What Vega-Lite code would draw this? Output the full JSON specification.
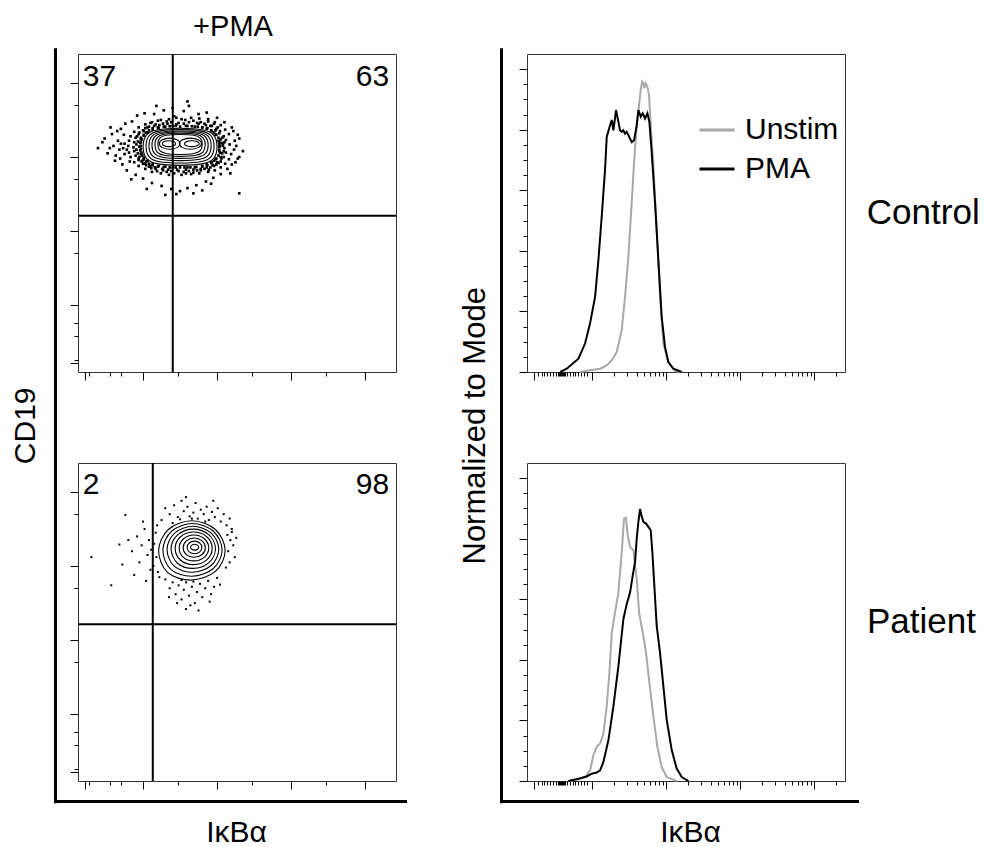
{
"$schema":"https://vega.github.io/schema/vega-lite/v6.json",
"background":"white",
"padding":{"left":9,"top":12,"right":0,"bottom":0},
"config":{"font":"Liberation Sans","view":{"stroke":"#333","strokeWidth":1},
"axis":{"grid":false,"labels":false,"domain":false,"tickColor":"#000","tickWidth":1,"titleFont":"Liberation Sans","titleFontWeight":"normal","titleColor":"#000","titleFontSize":30},
"title":{"font":"Liberation Sans","fontWeight":"normal","color":"#000"},
"text":{"font":"Liberation Sans"}},
"datasets":{
"gates":[{"p":"TL","gx":2.401,"gy":3.208},{"p":"BL","gx":2.131,"gy":3.213}],
"quads":[{"p":"TL","q":"UL","pct":37},{"p":"TL","q":"UR","pct":63},{"p":"BL","q":"UL","pct":2},{"p":"BL","q":"UR","pct":98}],
"dummy":[{"f":2},{"f":3}],
"frame":[{"f":0},{"f":1}],
"tl_dots":[{"x":3.04,"y":4.15},{"x":3.10,"y":4.12},{"x":3.17,"y":4.17},{"x":3.23,"y":4.10},{"x":3.06,"y":4.19},{"x":3.03,"y":4.21},{"x":3.12,"y":4.23},{"x":3.08,"y":4.18},{"x":3.02,"y":4.26},{"x":3.09,"y":4.28},{"x":3.16,"y":4.31},{"x":3.05,"y":4.24},{"x":2.98,"y":4.30},{"x":3.04,"y":4.35},{"x":3.11,"y":4.37},{"x":3.01,"y":4.40},{"x":2.93,"y":4.35},{"x":2.99,"y":4.38},{"x":3.05,"y":4.43},{"x":2.96,"y":4.45},{"x":2.86,"y":4.38},{"x":2.91,"y":4.42},{"x":2.97,"y":4.47},{"x":2.88,"y":4.48},{"x":2.80,"y":4.40},{"x":2.83,"y":4.45},{"x":2.88,"y":4.51},{"x":2.78,"y":4.47},{"x":2.70,"y":4.41},{"x":2.73,"y":4.46},{"x":2.76,"y":4.52},{"x":2.68,"y":4.49},{"x":2.60,"y":4.42},{"x":2.62,"y":4.47},{"x":2.65,"y":4.53},{"x":2.57,"y":4.50},{"x":2.50,"y":4.41},{"x":2.48,"y":4.46},{"x":2.52,"y":4.51},{"x":2.45,"y":4.53},{"x":2.40,"y":4.42},{"x":2.38,"y":4.47},{"x":2.35,"y":4.51},{"x":2.42,"y":4.55},{"x":2.30,"y":4.41},{"x":2.27,"y":4.45},{"x":2.24,"y":4.50},{"x":2.32,"y":4.48},{"x":2.21,"y":4.39},{"x":2.17,"y":4.44},{"x":2.12,"y":4.47},{"x":2.20,"y":4.49},{"x":2.13,"y":4.37},{"x":2.08,"y":4.41},{"x":2.03,"y":4.44},{"x":2.10,"y":4.46},{"x":2.06,"y":4.33},{"x":2.00,"y":4.36},{"x":1.94,"y":4.40},{"x":2.03,"y":4.39},{"x":2.01,"y":4.29},{"x":1.94,"y":4.31},{"x":1.88,"y":4.34},{"x":1.97,"y":4.26},{"x":1.97,"y":4.24},{"x":1.90,"y":4.26},{"x":1.83,"y":4.28},{"x":1.93,"y":4.21},{"x":1.96,"y":4.19},{"x":1.88,"y":4.20},{"x":1.81,"y":4.22},{"x":1.75,"y":4.18},{"x":1.95,"y":4.14},{"x":1.87,"y":4.13},{"x":1.80,"y":4.15},{"x":1.73,"y":4.12},{"x":1.91,"y":4.10},{"x":1.96,"y":4.09},{"x":1.88,"y":4.08},{"x":1.81,"y":4.06},{"x":1.75,"y":4.04},{"x":1.97,"y":4.04},{"x":1.90,"y":4.02},{"x":1.83,"y":4.00},{"x":1.94,"y":3.98},{"x":2.01,"y":3.99},{"x":1.94,"y":3.96},{"x":1.88,"y":3.93},{"x":1.98,"y":3.94},{"x":2.06,"y":3.95},{"x":2.00,"y":3.91},{"x":1.94,"y":3.88},{"x":2.04,"y":3.89},{"x":2.13,"y":3.91},{"x":2.08,"y":3.87},{"x":2.03,"y":3.84},{"x":2.11,"y":3.85},{"x":2.21,"y":3.88},{"x":2.17,"y":3.84},{"x":2.12,"y":3.80},{"x":2.19,"y":3.81},{"x":2.30,"y":3.87},{"x":2.27,"y":3.82},{"x":2.24,"y":3.78},{"x":2.32,"y":3.80},{"x":2.40,"y":3.86},{"x":2.38,"y":3.81},{"x":2.35,"y":3.76},{"x":2.42,"y":3.78},{"x":2.50,"y":3.86},{"x":2.48,"y":3.81},{"x":2.52,"y":3.76},{"x":2.55,"y":3.80},{"x":2.60,"y":3.86},{"x":2.62,"y":3.81},{"x":2.65,"y":3.77},{"x":2.58,"y":3.78},{"x":2.70,"y":3.86},{"x":2.73,"y":3.82},{"x":2.76,"y":3.78},{"x":2.68,"y":3.79},{"x":2.80,"y":3.88},{"x":2.83,"y":3.84},{"x":2.88,"y":3.80},{"x":2.78,"y":3.82},{"x":2.86,"y":3.90},{"x":2.91,"y":3.86},{"x":2.97,"y":3.82},{"x":2.89,"y":3.83},{"x":2.93,"y":3.93},{"x":2.99,"y":3.90},{"x":3.05,"y":3.86},{"x":2.96,"y":3.88},{"x":2.98,"y":3.97},{"x":3.05,"y":3.94},{"x":3.11,"y":3.91},{"x":3.02,"y":3.92},{"x":3.02,"y":4.02},{"x":3.09,"y":4.00},{"x":3.16,"y":3.97},{"x":3.06,"y":3.98},{"x":3.03,"y":4.08},{"x":3.12,"y":4.06},{"x":3.19,"y":4.04},{"x":3.07,"y":4.05},{"x":1.39,"y":4.12},{"x":1.45,"y":4.20},{"x":1.52,"y":4.05},{"x":1.58,"y":4.31},{"x":1.62,"y":3.95},{"x":1.66,"y":4.22},{"x":1.70,"y":4.38},{"x":1.72,"y":3.90},{"x":1.76,"y":4.45},{"x":1.68,"y":4.10},{"x":1.78,"y":3.82},{"x":1.85,"y":4.48},{"x":1.92,"y":4.56},{"x":2.02,"y":4.59},{"x":2.15,"y":4.58},{"x":2.28,"y":4.63},{"x":2.40,"y":4.66},{"x":2.55,"y":4.62},{"x":2.62,"y":4.69},{"x":2.75,"y":4.58},{"x":2.86,"y":4.60},{"x":3.00,"y":4.53},{"x":3.10,"y":4.47},{"x":3.20,"y":4.40},{"x":3.28,"y":4.30},{"x":3.35,"y":4.08},{"x":3.24,"y":4.22},{"x":3.30,"y":4.00},{"x":3.25,"y":3.93},{"x":3.14,"y":3.84},{"x":3.05,"y":3.77},{"x":2.95,"y":3.72},{"x":2.85,"y":3.67},{"x":2.72,"y":3.62},{"x":2.60,"y":3.58},{"x":2.50,"y":3.54},{"x":2.38,"y":3.57},{"x":2.25,"y":3.61},{"x":2.12,"y":3.65},{"x":2.00,"y":3.71},{"x":1.90,"y":3.76},{"x":2.45,"y":3.50},{"x":2.68,"y":3.51},{"x":2.30,"y":3.49},{"x":2.05,"y":3.57},{"x":2.80,"y":3.55},{"x":3.30,"y":3.51},{"x":2.18,"y":4.69},{"x":2.60,"y":4.75},{"x":1.84,"y":3.70},{"x":2.92,"y":3.64},{"x":1.60,"y":4.15},{"x":3.18,"y":3.78},
{"x":3.03,"y":4.14},{"x":3.03,"y":4.10},{"x":3.04,"y":4.06},{"x":3.03,"y":4.18},{"x":3.02,"y":4.22},{"x":2.99,"y":4.30},{"x":2.96,"y":4.33},{"x":2.92,"y":4.36},{"x":2.87,"y":4.39},{"x":2.80,"y":4.40},{"x":2.74,"y":4.41},{"x":2.66,"y":4.415},{"x":2.58,"y":4.42},{"x":2.44,"y":4.42},{"x":2.36,"y":4.415},{"x":2.28,"y":4.41},{"x":2.20,"y":4.40},{"x":2.13,"y":4.39},{"x":2.08,"y":4.36},{"x":2.04,"y":4.33},{"x":2.01,"y":4.30},{"x":1.98,"y":4.24},{"x":1.97,"y":4.20},{"x":1.97,"y":4.15},{"x":1.97,"y":4.11},{"x":1.98,"y":4.06},{"x":1.99,"y":4.02},{"x":2.01,"y":3.97},{"x":2.04,"y":3.94},{"x":2.08,"y":3.91},{"x":2.13,"y":3.89},{"x":2.20,"y":3.87},{"x":2.28,"y":3.865},{"x":2.36,"y":3.86},{"x":2.44,"y":3.86},{"x":2.56,"y":3.86},{"x":2.64,"y":3.86},{"x":2.72,"y":3.865},{"x":2.80,"y":3.87},{"x":2.87,"y":3.89},{"x":2.92,"y":3.92},{"x":2.96,"y":3.95},{"x":2.99,"y":3.98},
{"x":3.08,"y":4.15},{"x":3.09,"y":4.08},{"x":3.10,"y":4.20},{"x":3.07,"y":4.26},{"x":3.03,"y":4.32},{"x":2.98,"y":4.36},{"x":2.93,"y":4.42},{"x":2.85,"y":4.43},{"x":2.75,"y":4.45},{"x":2.55,"y":4.45},{"x":2.45,"y":4.44},{"x":2.33,"y":4.45},{"x":2.22,"y":4.43},{"x":2.15,"y":4.42},{"x":2.06,"y":4.40},{"x":2.01,"y":4.35},{"x":1.95,"y":4.33},{"x":1.92,"y":4.28},{"x":1.91,"y":4.17},{"x":1.93,"y":4.05},{"x":1.95,"y":4.00},{"x":1.99,"y":3.95},{"x":2.03,"y":3.91},{"x":2.10,"y":3.88},{"x":2.16,"y":3.86},{"x":2.26,"y":3.84},{"x":2.34,"y":3.83},{"x":2.46,"y":3.83},{"x":2.58,"y":3.83},{"x":2.68,"y":3.83},{"x":2.78,"y":3.84},{"x":2.86,"y":3.86},{"x":2.94,"y":3.89},{"x":3.00,"y":3.93},{"x":3.05,"y":4.00},
{"x":1.48,"y":4.25},{"x":1.55,"y":4.12},{"x":1.63,"y":4.02},{"x":1.65,"y":4.35},{"x":1.70,"y":4.18},{"x":1.74,"y":4.30},{"x":1.78,"y":4.10},{"x":1.82,"y":3.94},{"x":1.69,"y":3.98},{"x":1.56,"y":4.40},{"x":3.26,"y":4.15},{"x":3.30,"y":4.25},{"x":3.22,"y":4.35},{"x":3.28,"y":3.98},{"x":3.20,"y":3.90}],
"tl_cont":[{"c":"T1","x":3.000,"y":4.138},{"c":"T1","x":2.955,"y":4.296},{"c":"T1","x":2.815,"y":4.365},{"c":"T1","x":2.500,"y":4.388},{"c":"T1","x":2.185,"y":4.365},{"c":"T1","x":2.046,"y":4.296},{"c":"T1","x":2.000,"y":4.138},{"c":"T1","x":2.046,"y":3.981},{"c":"T1","x":2.185,"y":3.911},{"c":"T1","x":2.500,"y":3.888},{"c":"T1","x":2.815,"y":3.911},{"c":"T1","x":2.955,"y":3.981},
{"c":"T2","x":2.960,"y":4.145},{"c":"T2","x":2.918,"y":4.287},{"c":"T2","x":2.790,"y":4.350},{"c":"T2","x":2.500,"y":4.370},{"c":"T2","x":2.210,"y":4.350},{"c":"T2","x":2.082,"y":4.287},{"c":"T2","x":2.040,"y":4.145},{"c":"T2","x":2.082,"y":4.003},{"c":"T2","x":2.210,"y":3.940},{"c":"T2","x":2.500,"y":3.920},{"c":"T2","x":2.790,"y":3.940},{"c":"T2","x":2.918,"y":4.003},
{"c":"T3","x":2.920,"y":4.152},{"c":"T3","x":2.882,"y":4.278},{"c":"T3","x":2.765,"y":4.334},{"c":"T3","x":2.500,"y":4.352},{"c":"T3","x":2.235,"y":4.334},{"c":"T3","x":2.118,"y":4.278},{"c":"T3","x":2.080,"y":4.152},{"c":"T3","x":2.118,"y":4.026},{"c":"T3","x":2.235,"y":3.970},{"c":"T3","x":2.500,"y":3.952},{"c":"T3","x":2.765,"y":3.970},{"c":"T3","x":2.882,"y":4.026},
{"c":"T4","x":2.880,"y":4.160},{"c":"T4","x":2.845,"y":4.272},{"c":"T4","x":2.739,"y":4.322},{"c":"T4","x":2.500,"y":4.338},{"c":"T4","x":2.261,"y":4.322},{"c":"T4","x":2.155,"y":4.272},{"c":"T4","x":2.120,"y":4.160},{"c":"T4","x":2.155,"y":4.048},{"c":"T4","x":2.261,"y":3.998},{"c":"T4","x":2.500,"y":3.982},{"c":"T4","x":2.739,"y":3.998},{"c":"T4","x":2.845,"y":4.048},
{"c":"T5","x":2.840,"y":4.165},{"c":"T5","x":2.809,"y":4.263},{"c":"T5","x":2.714,"y":4.307},{"c":"T5","x":2.500,"y":4.321},{"c":"T5","x":2.286,"y":4.307},{"c":"T5","x":2.191,"y":4.263},{"c":"T5","x":2.160,"y":4.165},{"c":"T5","x":2.191,"y":4.067},{"c":"T5","x":2.286,"y":4.023},{"c":"T5","x":2.500,"y":4.009},{"c":"T5","x":2.714,"y":4.023},{"c":"T5","x":2.809,"y":4.067},
{"c":"T6","x":2.800,"y":4.170},{"c":"T6","x":2.773,"y":4.255},{"c":"T6","x":2.689,"y":4.293},{"c":"T6","x":2.500,"y":4.305},{"c":"T6","x":2.311,"y":4.293},{"c":"T6","x":2.227,"y":4.255},{"c":"T6","x":2.200,"y":4.170},{"c":"T6","x":2.227,"y":4.085},{"c":"T6","x":2.311,"y":4.047},{"c":"T6","x":2.500,"y":4.035},{"c":"T6","x":2.689,"y":4.047},{"c":"T6","x":2.773,"y":4.085},
{"c":"T7L","x":2.50,"y":4.18},{"c":"T7L","x":2.459,"y":4.233},{"c":"T7L","x":2.36,"y":4.255},{"c":"T7L","x":2.261,"y":4.233},{"c":"T7L","x":2.22,"y":4.18},{"c":"T7L","x":2.261,"y":4.127},{"c":"T7L","x":2.36,"y":4.105},{"c":"T7L","x":2.459,"y":4.127},
{"c":"T7R","x":2.79,"y":4.18},{"c":"T7R","x":2.746,"y":4.233},{"c":"T7R","x":2.64,"y":4.255},{"c":"T7R","x":2.534,"y":4.233},{"c":"T7R","x":2.49,"y":4.18},{"c":"T7R","x":2.534,"y":4.127},{"c":"T7R","x":2.64,"y":4.105},{"c":"T7R","x":2.746,"y":4.127},
{"c":"T8L","x":2.44,"y":4.18},{"c":"T8L","x":2.414,"y":4.208},{"c":"T8L","x":2.35,"y":4.22},{"c":"T8L","x":2.286,"y":4.208},{"c":"T8L","x":2.26,"y":4.18},{"c":"T8L","x":2.286,"y":4.152},{"c":"T8L","x":2.35,"y":4.14},{"c":"T8L","x":2.414,"y":4.152},
{"c":"T8R","x":2.76,"y":4.18},{"c":"T8R","x":2.731,"y":4.208},{"c":"T8R","x":2.66,"y":4.22},{"c":"T8R","x":2.589,"y":4.208},{"c":"T8R","x":2.56,"y":4.18},{"c":"T8R","x":2.589,"y":4.152},{"c":"T8R","x":2.66,"y":4.14},{"c":"T8R","x":2.731,"y":4.152}],
"bl_dots":[{"x":2.30,"y":4.78},{"x":2.36,"y":4.70},{"x":2.42,"y":4.82},{"x":2.47,"y":4.66},{"x":2.52,"y":4.88},{"x":2.55,"y":4.74},{"x":2.60,"y":4.80},{"x":2.63,"y":4.67},{"x":2.68,"y":4.72},{"x":2.71,"y":4.85},{"x":2.74,"y":4.64},{"x":2.78,"y":4.76},{"x":2.82,"y":4.70},{"x":2.86,"y":4.80},{"x":2.89,"y":4.62},{"x":2.93,"y":4.73},{"x":2.97,"y":4.66},{"x":3.01,"y":4.78},{"x":3.05,"y":4.60},{"x":3.09,"y":4.70},{"x":3.13,"y":4.55},{"x":3.17,"y":4.64},{"x":2.25,"y":4.62},{"x":2.40,"y":4.58},{"x":2.58,"y":4.93},{"x":2.66,"y":4.64},{"x":2.84,"y":4.60},{"x":3.20,"y":4.50},{"x":2.95,"y":4.88},{"x":2.50,"y":4.63},{"x":3.14,"y":4.42},{"x":3.18,"y":4.35},{"x":3.22,"y":4.28},{"x":3.15,"y":4.20},{"x":3.24,"y":4.12},{"x":3.17,"y":4.05},{"x":3.12,"y":3.98},{"x":3.20,"y":4.46},{"x":3.26,"y":4.38},{"x":2.30,"y":3.82},{"x":2.36,"y":3.70},{"x":2.40,"y":3.78},{"x":2.44,"y":3.62},{"x":2.48,"y":3.74},{"x":2.52,"y":3.55},{"x":2.55,"y":3.68},{"x":2.58,"y":3.78},{"x":2.62,"y":3.60},{"x":2.66,"y":3.72},{"x":2.70,"y":3.50},{"x":2.73,"y":3.65},{"x":2.77,"y":3.76},{"x":2.80,"y":3.58},{"x":2.84,"y":3.70},{"x":2.88,"y":3.80},{"x":2.92,"y":3.62},{"x":2.96,"y":3.72},{"x":3.00,"y":3.84},{"x":3.04,"y":3.75},{"x":2.58,"y":3.42},{"x":2.64,"y":3.47},{"x":2.46,"y":3.50},{"x":2.35,"y":3.58},{"x":2.90,"y":3.52},{"x":2.75,"y":3.40},{"x":2.68,"y":3.79},{"x":2.52,"y":3.81},{"x":2.15,"y":4.30},{"x":2.18,"y":4.12},{"x":2.14,"y":4.00},{"x":2.20,"y":3.92},{"x":2.17,"y":4.45},{"x":2.22,"y":3.85},{"x":2.19,"y":4.55},{"x":1.30,"y":4.12},{"x":1.57,"y":3.74},{"x":1.68,"y":4.29},{"x":1.76,"y":4.69},{"x":1.80,"y":4.35},{"x":1.85,"y":4.20},{"x":1.88,"y":3.88},{"x":1.92,"y":4.40},{"x":1.95,"y":4.05},{"x":1.98,"y":4.28},{"x":2.02,"y":4.50},{"x":2.04,"y":3.80},{"x":2.06,"y":4.15},{"x":2.08,"y":4.35},{"x":2.10,"y":3.95},{"x":1.72,"y":4.02},{"x":2.00,"y":4.60},{"x":2.11,"y":4.22}],
"bl_cont":[{"c":"L1","x":3.110,"y":4.210},{"c":"L1","x":2.978,"y":4.493},{"c":"L1","x":2.660,"y":4.610},{"c":"L1","x":2.342,"y":4.493},{"c":"L1","x":2.210,"y":4.210},{"c":"L1","x":2.330,"y":3.915},{"c":"L1","x":2.650,"y":3.810},{"c":"L1","x":2.978,"y":3.927},
{"c":"L2","x":3.068,"y":4.218},{"c":"L2","x":2.951,"y":4.469},{"c":"L2","x":2.668,"y":4.573},{"c":"L2","x":2.385,"y":4.469},{"c":"L2","x":2.268,"y":4.218},{"c":"L2","x":2.375,"y":3.955},{"c":"L2","x":2.660,"y":3.863},{"c":"L2","x":2.951,"y":3.967},
{"c":"L3","x":3.024,"y":4.226},{"c":"L3","x":2.921,"y":4.445},{"c":"L3","x":2.674,"y":4.536},{"c":"L3","x":2.427,"y":4.445},{"c":"L3","x":2.324,"y":4.226},{"c":"L3","x":2.420,"y":3.998},{"c":"L3","x":2.668,"y":3.916},{"c":"L3","x":2.921,"y":4.007},
{"c":"L4","x":2.979,"y":4.233},{"c":"L4","x":2.891,"y":4.420},{"c":"L4","x":2.679,"y":4.498},{"c":"L4","x":2.467,"y":4.420},{"c":"L4","x":2.379,"y":4.233},{"c":"L4","x":2.462,"y":4.041},{"c":"L4","x":2.675,"y":3.968},{"c":"L4","x":2.891,"y":4.046},
{"c":"L5","x":2.934,"y":4.239},{"c":"L5","x":2.861,"y":4.395},{"c":"L5","x":2.684,"y":4.459},{"c":"L5","x":2.507,"y":4.395},{"c":"L5","x":2.434,"y":4.239},{"c":"L5","x":2.504,"y":4.081},{"c":"L5","x":2.681,"y":4.019},{"c":"L5","x":2.861,"y":4.083},
{"c":"L6","x":2.888,"y":4.244},{"c":"L6","x":2.829,"y":4.368},{"c":"L6","x":2.688,"y":4.419},{"c":"L6","x":2.547,"y":4.368},{"c":"L6","x":2.488,"y":4.244},{"c":"L6","x":2.545,"y":4.118},{"c":"L6","x":2.686,"y":4.069},{"c":"L6","x":2.829,"y":4.120},
{"c":"L7","x":2.842,"y":4.248},{"c":"L7","x":2.798,"y":4.340},{"c":"L7","x":2.692,"y":4.378},{"c":"L7","x":2.586,"y":4.340},{"c":"L7","x":2.542,"y":4.248},{"c":"L7","x":2.585,"y":4.155},{"c":"L7","x":2.691,"y":4.118},{"c":"L7","x":2.798,"y":4.156},
{"c":"L8","x":2.795,"y":4.251},{"c":"L8","x":2.766,"y":4.311},{"c":"L8","x":2.695,"y":4.336},{"c":"L8","x":2.624,"y":4.311},{"c":"L8","x":2.595,"y":4.251},{"c":"L8","x":2.624,"y":4.191},{"c":"L8","x":2.695,"y":4.166},{"c":"L8","x":2.766,"y":4.191},
{"c":"L9","x":2.753,"y":4.254},{"c":"L9","x":2.737,"y":4.282},{"c":"L9","x":2.698,"y":4.294},{"c":"L9","x":2.659,"y":4.282},{"c":"L9","x":2.643,"y":4.254},{"c":"L9","x":2.659,"y":4.226},{"c":"L9","x":2.698,"y":4.214},{"c":"L9","x":2.737,"y":4.226}],
"ctrl":[{"s":"Unstim","x":1.838,"y":0},{"s":"Unstim","x":1.973,"y":0.55},{"s":"Unstim","x":2.108,"y":1.1},{"s":"Unstim","x":2.198,"y":2.2},{"s":"Unstim","x":2.266,"y":3.9},{"s":"Unstim","x":2.333,"y":6.6},{"s":"Unstim","x":2.401,"y":13.9},{"s":"Unstim","x":2.446,"y":24.9},{"s":"Unstim","x":2.491,"y":38.2},{"s":"Unstim","x":2.536,"y":56.0},{"s":"Unstim","x":2.568,"y":69.3},{"s":"Unstim","x":2.604,"y":81.5},{"s":"Unstim","x":2.635,"y":88.2},{"s":"Unstim","x":2.658,"y":93.1},{"s":"Unstim","x":2.676,"y":95.9},{"s":"Unstim","x":2.694,"y":95.4},{"s":"Unstim","x":2.707,"y":93.7},{"s":"Unstim","x":2.725,"y":95.4},{"s":"Unstim","x":2.748,"y":94.2},{"s":"Unstim","x":2.770,"y":91.5},{"s":"Unstim","x":2.793,"y":81.5},{"s":"Unstim","x":2.829,"y":68.2},{"s":"Unstim","x":2.874,"y":47.1},{"s":"Unstim","x":2.919,"y":24.9},{"s":"Unstim","x":2.964,"y":9.4},{"s":"Unstim","x":3.031,"y":3.3},{"s":"Unstim","x":3.122,"y":0.3},{"s":"Unstim","x":3.212,"y":0},
{"s":"PMA","x":1.568,"y":0},{"s":"PMA","x":1.658,"y":1.1},{"s":"PMA","x":1.815,"y":4.4},{"s":"PMA","x":1.905,"y":9.4},{"s":"PMA","x":1.973,"y":16.1},{"s":"PMA","x":2.041,"y":24.9},{"s":"PMA","x":2.086,"y":37.1},{"s":"PMA","x":2.131,"y":51.6},{"s":"PMA","x":2.176,"y":67.1},{"s":"PMA","x":2.198,"y":77.6},{"s":"PMA","x":2.243,"y":81.5},{"s":"PMA","x":2.266,"y":83.2},{"s":"PMA","x":2.288,"y":79.8},{"s":"PMA","x":2.324,"y":86.5},{"s":"PMA","x":2.356,"y":82.6},{"s":"PMA","x":2.378,"y":79.8},{"s":"PMA","x":2.401,"y":79.3},{"s":"PMA","x":2.423,"y":79.8},{"s":"PMA","x":2.446,"y":78.7},{"s":"PMA","x":2.468,"y":79.3},{"s":"PMA","x":2.491,"y":78.2},{"s":"PMA","x":2.536,"y":75.9},{"s":"PMA","x":2.568,"y":76.5},{"s":"PMA","x":2.604,"y":81.5},{"s":"PMA","x":2.626,"y":86.5},{"s":"PMA","x":2.658,"y":84.3},{"s":"PMA","x":2.685,"y":85.4},{"s":"PMA","x":2.716,"y":83.7},{"s":"PMA","x":2.748,"y":85.4},{"s":"PMA","x":2.775,"y":82.6},{"s":"PMA","x":2.806,"y":72.6},{"s":"PMA","x":2.851,"y":56.0},{"s":"PMA","x":2.896,"y":37.1},{"s":"PMA","x":2.941,"y":18.3},{"s":"PMA","x":2.986,"y":8.3},{"s":"PMA","x":3.031,"y":3.3},{"s":"PMA","x":3.099,"y":1.1},{"s":"PMA","x":3.212,"y":0}],
"pat":[{"s":"Unstim","x":1.680,"y":0},{"s":"Unstim","x":1.793,"y":0.43},{"s":"Unstim","x":1.905,"y":1.3},{"s":"Unstim","x":1.973,"y":3.5},{"s":"Unstim","x":2.018,"y":8.5},{"s":"Unstim","x":2.063,"y":11.3},{"s":"Unstim","x":2.108,"y":12.4},{"s":"Unstim","x":2.153,"y":15.7},{"s":"Unstim","x":2.198,"y":24.6},{"s":"Unstim","x":2.234,"y":35.7},{"s":"Unstim","x":2.266,"y":49.0},{"s":"Unstim","x":2.311,"y":55.7},{"s":"Unstim","x":2.356,"y":62.3},{"s":"Unstim","x":2.401,"y":75.6},{"s":"Unstim","x":2.432,"y":86.7},{"s":"Unstim","x":2.459,"y":86.9},{"s":"Unstim","x":2.482,"y":81.2},{"s":"Unstim","x":2.514,"y":77.3},{"s":"Unstim","x":2.559,"y":76.2},{"s":"Unstim","x":2.604,"y":66.7},{"s":"Unstim","x":2.635,"y":55.7},{"s":"Unstim","x":2.685,"y":49.0},{"s":"Unstim","x":2.730,"y":42.3},{"s":"Unstim","x":2.775,"y":32.4},{"s":"Unstim","x":2.829,"y":21.3},{"s":"Unstim","x":2.883,"y":11.3},{"s":"Unstim","x":2.941,"y":4.6},{"s":"Unstim","x":3.009,"y":1.3},{"s":"Unstim","x":3.144,"y":0},
{"s":"PMA","x":1.680,"y":0},{"s":"PMA","x":1.815,"y":0.77},{"s":"PMA","x":1.928,"y":1.5},{"s":"PMA","x":1.995,"y":2.4},{"s":"PMA","x":2.063,"y":2.8},{"s":"PMA","x":2.108,"y":3.5},{"s":"PMA","x":2.153,"y":6.3},{"s":"PMA","x":2.221,"y":13.5},{"s":"PMA","x":2.288,"y":24.6},{"s":"PMA","x":2.356,"y":37.9},{"s":"PMA","x":2.423,"y":53.4},{"s":"PMA","x":2.468,"y":58.4},{"s":"PMA","x":2.514,"y":62.3},{"s":"PMA","x":2.550,"y":67.9},{"s":"PMA","x":2.581,"y":72.3},{"s":"PMA","x":2.604,"y":80.1},{"s":"PMA","x":2.626,"y":85.6},{"s":"PMA","x":2.649,"y":89.8},{"s":"PMA","x":2.671,"y":87.3},{"s":"PMA","x":2.694,"y":85.6},{"s":"PMA","x":2.730,"y":85.0},{"s":"PMA","x":2.761,"y":83.9},{"s":"PMA","x":2.793,"y":82.8},{"s":"PMA","x":2.815,"y":75.6},{"s":"PMA","x":2.842,"y":64.5},{"s":"PMA","x":2.874,"y":51.2},{"s":"PMA","x":2.919,"y":42.3},{"s":"PMA","x":2.964,"y":31.3},{"s":"PMA","x":3.009,"y":20.2},{"s":"PMA","x":3.077,"y":10.2},{"s":"PMA","x":3.144,"y":4.1},{"s":"PMA","x":3.212,"y":1.3},{"s":"PMA","x":3.302,"y":0}]
},
"concat":[
{"width":318,"height":318,
"title":{"text":"+PMA","fontSize":29,"anchor":"middle","frame":"group","offset":5,"dx":-4},
"layer":[
{"layer":[
{"data":{"name":"tl_dots"},"mark":{"type":"square","size":7,"color":"#000","opacity":1},
"encoding":{"x":{"field":"x","type":"quantitative","scale":{"domain":[1.12,5.42],"nice":false,"zero":false},"axis":{"orient":"bottom","title":null,"tickSize":4,"values":[1.274,1.32,1.356,1.396,1.432,1.477,1.509,1.545,1.557,1.569,1.581,1.593,1.605,1.617,1.629,1.658,1.703,1.739,1.775,1.815,1.847,1.892,1.928,2.301,2.477,2.602,2.699,2.778,2.845,2.903,2.954,3.301,3.477,3.602,3.699,3.778,3.845,3.903,3.954,4.301,4.477,4.602,4.699,4.778,4.845,4.903,4.954,5.301]}},
"y":{"field":"y","type":"quantitative","scale":{"domain":[1.10,5.39],"nice":false,"zero":false},"axis":{"orient":"left","title":null,"tickSize":4,"values":[1.262,1.307,1.351,1.397,1.442,1.487,1.532,1.577,1.59,1.60,1.61,1.622,1.635,1.65,1.667,1.712,1.757,1.802,1.847,1.892,1.938,2.301,2.477,2.602,2.699,2.778,2.845,2.903,2.954,3.301,3.477,3.602,3.699,3.778,3.845,3.903,3.954,4.301,4.477,4.602,4.699,4.778,4.845,4.903,4.954,5.301]}}}},
{"data":{"name":"tl_cont"},"mark":{"type":"line","interpolate":"cardinal-closed","color":"#000","strokeWidth":1.1},
"encoding":{"x":{"field":"x","type":"quantitative"},"y":{"field":"y","type":"quantitative"},"detail":{"field":"c"},"order":{"value":null}}},
{"data":{"name":"gates"},"transform":[{"filter":"datum.p==='TL'"}],"mark":{"type":"rule","color":"#000","strokeWidth":2},"encoding":{"x":{"field":"gx","type":"quantitative"}}},
{"data":{"name":"gates"},"transform":[{"filter":"datum.p==='TL'"}],"mark":{"type":"rule","color":"#000","strokeWidth":2},"encoding":{"y":{"field":"gy","type":"quantitative"}}},
{"data":{"name":"quads"},"transform":[{"filter":"datum.p==='TL' && datum.q==='UL'"}],"mark":{"type":"text","align":"left","baseline":"alphabetic","fontSize":30,"color":"#000"},"encoding":{"x":{"datum":1.185,"type":"quantitative"},"y":{"datum":4.955,"type":"quantitative"},"text":{"field":"pct"}}},
{"data":{"name":"quads"},"transform":[{"filter":"datum.p==='TL' && datum.q==='UR'"}],"mark":{"type":"text","align":"right","baseline":"alphabetic","fontSize":30,"color":"#000"},"encoding":{"x":{"datum":5.328,"type":"quantitative"},"y":{"datum":4.955,"type":"quantitative"},"text":{"field":"pct"}}}
]},
{"data":{"name":"dummy"},"mark":{"type":"point","opacity":0},"encoding":{"x":{"field":"f","type":"quantitative","scale":{"domain":[1.12,5.42],"nice":false,"zero":false},"axis":{"orient":"bottom","title":null,"tickSize":8,"values":[1.22,2,3,4,5]}},"y":{"field":"f","type":"quantitative","scale":{"domain":[1.10,5.39],"nice":false,"zero":false},"axis":{"orient":"left","title":null,"tickSize":8,"values":[1.226,2,3,4,5]}}}},
{"data":{"name":"frame"},"mark":{"type":"point","opacity":0},"encoding":{"y":{"field":"f","type":"quantitative","scale":{"domain":[0,1],"range":[747.3,-4.7],"nice":false,"zero":false},"axis":{"orient":"left","offset":23,"domain":true,"domainWidth":3,"domainColor":"#000","domainCap":"square","ticks":false,"labels":false,"title":"CD19","titleFontSize":30,"titlePadding":15}}}}
],
"resolve":{"scale":{"x":"independent","y":"independent"},"axis":{"x":"independent","y":"independent"}}},

{"width":318,"height":318,
"title":{"text":"Control","orient":"right","angle":0,"align":"left","baseline":"middle","anchor":"middle","frame":"group","offset":-91,"fontSize":35},
"layer":[
{"layer":[
{"data":{"name":"ctrl"},"mark":{"type":"line","strokeWidth":2},
"encoding":{"x":{"field":"x","type":"quantitative","scale":{"domain":[1.12,5.42],"nice":false,"zero":false},"axis":{"orient":"bottom","title":null,"tickSize":4,"values":[1.274,1.32,1.356,1.396,1.432,1.477,1.509,1.545,1.557,1.569,1.581,1.593,1.605,1.617,1.629,1.658,1.703,1.739,1.775,1.815,1.847,1.892,1.928,2.301,2.477,2.602,2.699,2.778,2.845,2.903,2.954,3.301,3.477,3.602,3.699,3.778,3.845,3.903,3.954,4.301,4.477,4.602,4.699,4.778,4.845,4.903,4.954,5.301]}},
"y":{"field":"y","type":"quantitative","scale":{"domain":[0,105],"nice":false,"zero":false},"axis":{"orient":"left","title":null,"tickSize":4,"values":[5,10,15,25,30,35,45,50,55,65,70,75,85,90,95]}},
"color":{"field":"s","type":"nominal","scale":{"domain":["Unstim","PMA"],"range":["#a8a8a8","#000000"]},"legend":{"orient":"none","legendX":171,"legendY":57,"title":null,"symbolType":"stroke","symbolStrokeWidth":3,"symbolSize":1225,"labelFontSize":30,"labelFont":"Liberation Sans","labelColor":"#000","labelOffset":9,"rowPadding":5,"padding":0}},
"order":{"value":null}}}
]},
{"data":{"name":"dummy"},"mark":{"type":"point","opacity":0},"encoding":{"x":{"field":"f","type":"quantitative","scale":{"domain":[1.12,5.42],"nice":false,"zero":false},"axis":{"orient":"bottom","title":null,"tickSize":8,"values":[1.22,2,3,4,5]}},"y":{"field":"f","type":"quantitative","scale":{"domain":[0,105],"nice":false,"zero":false},"axis":{"orient":"left","title":null,"tickSize":8,"values":[0,20,40,60,80,100]}}}},
{"data":{"name":"frame"},"mark":{"type":"point","opacity":0},"encoding":{"y":{"field":"f","type":"quantitative","scale":{"domain":[0,1],"range":[747.3,-4.7],"nice":false,"zero":false},"axis":{"orient":"left","offset":26,"domain":true,"domainWidth":3,"domainColor":"#000","domainCap":"square","ticks":false,"labels":false,"title":"Normalized to Mode","titleFontSize":31,"titlePadding":10}}}}
],
"resolve":{"scale":{"x":"independent","y":"independent"},"axis":{"x":"independent","y":"independent"}}},

{"width":318,"height":318,
"layer":[
{"layer":[
{"data":{"name":"bl_dots"},"mark":{"type":"square","size":4,"color":"#000","opacity":1},
"encoding":{"x":{"field":"x","type":"quantitative","scale":{"domain":[1.12,5.42],"nice":false,"zero":false},"axis":{"orient":"bottom","title":null,"tickSize":4,"values":[1.274,1.32,1.356,1.396,1.432,1.477,1.509,1.545,1.557,1.569,1.581,1.593,1.605,1.617,1.629,1.658,1.703,1.739,1.775,1.815,1.847,1.892,1.928,2.301,2.477,2.602,2.699,2.778,2.845,2.903,2.954,3.301,3.477,3.602,3.699,3.778,3.845,3.903,3.954,4.301,4.477,4.602,4.699,4.778,4.845,4.903,4.954,5.301]}},
"y":{"field":"y","type":"quantitative","scale":{"domain":[1.10,5.39],"nice":false,"zero":false},"axis":{"orient":"left","title":null,"tickSize":4,"values":[1.262,1.307,1.351,1.397,1.442,1.487,1.532,1.577,1.59,1.60,1.61,1.622,1.635,1.65,1.667,1.712,1.757,1.802,1.847,1.892,1.938,2.301,2.477,2.602,2.699,2.778,2.845,2.903,2.954,3.301,3.477,3.602,3.699,3.778,3.845,3.903,3.954,4.301,4.477,4.602,4.699,4.778,4.845,4.903,4.954,5.301]}}}},
{"data":{"name":"bl_cont"},"mark":{"type":"line","interpolate":"cardinal-closed","color":"#000","strokeWidth":1.1},
"encoding":{"x":{"field":"x","type":"quantitative"},"y":{"field":"y","type":"quantitative"},"detail":{"field":"c"},"order":{"value":null}}},
{"data":{"name":"gates"},"transform":[{"filter":"datum.p==='BL'"}],"mark":{"type":"rule","color":"#000","strokeWidth":2},"encoding":{"x":{"field":"gx","type":"quantitative"}}},
{"data":{"name":"gates"},"transform":[{"filter":"datum.p==='BL'"}],"mark":{"type":"rule","color":"#000","strokeWidth":2},"encoding":{"y":{"field":"gy","type":"quantitative"}}},
{"data":{"name":"quads"},"transform":[{"filter":"datum.p==='BL' && datum.q==='UL'"}],"mark":{"type":"text","align":"left","baseline":"alphabetic","fontSize":30,"color":"#000"},"encoding":{"x":{"datum":1.185,"type":"quantitative"},"y":{"datum":4.977,"type":"quantitative"},"text":{"field":"pct"}}},
{"data":{"name":"quads"},"transform":[{"filter":"datum.p==='BL' && datum.q==='UR'"}],"mark":{"type":"text","align":"right","baseline":"alphabetic","fontSize":30,"color":"#000"},"encoding":{"x":{"datum":5.328,"type":"quantitative"},"y":{"datum":4.977,"type":"quantitative"},"text":{"field":"pct"}}}
]},
{"data":{"name":"dummy"},"mark":{"type":"point","opacity":0},"encoding":{"x":{"field":"f","type":"quantitative","scale":{"domain":[1.12,5.42],"nice":false,"zero":false},"axis":{"orient":"bottom","title":null,"tickSize":8,"values":[1.22,2,3,4,5]}},"y":{"field":"f","type":"quantitative","scale":{"domain":[1.10,5.39],"nice":false,"zero":false},"axis":{"orient":"left","title":null,"tickSize":8,"values":[1.226,2,3,4,5]}}}},
{"data":{"name":"frame"},"mark":{"type":"point","opacity":0},"encoding":{"x":{"field":"f","type":"quantitative","scale":{"domain":[0,1],"range":[-23,327],"nice":false,"zero":false},"axis":{"orient":"bottom","offset":20,"domain":true,"domainWidth":3,"domainColor":"#000","domainCap":"square","ticks":false,"labels":false,"title":"IκBα","titleFontSize":30,"titlePadding":16,"titleX":158}}}}
],
"resolve":{"scale":{"x":"independent","y":"independent"},"axis":{"x":"independent","y":"independent"}}},

{"width":318,"height":318,
"title":{"text":"Patient","orient":"right","angle":0,"align":"left","baseline":"middle","anchor":"middle","frame":"group","offset":-125,"fontSize":35},
"layer":[
{"layer":[
{"data":{"name":"pat"},"mark":{"type":"line","strokeWidth":2},
"encoding":{"x":{"field":"x","type":"quantitative","scale":{"domain":[1.12,5.42],"nice":false,"zero":false},"axis":{"orient":"bottom","title":null,"tickSize":4,"values":[1.274,1.32,1.356,1.396,1.432,1.477,1.509,1.545,1.557,1.569,1.581,1.593,1.605,1.617,1.629,1.658,1.703,1.739,1.775,1.815,1.847,1.892,1.928,2.301,2.477,2.602,2.699,2.778,2.845,2.903,2.954,3.301,3.477,3.602,3.699,3.778,3.845,3.903,3.954,4.301,4.477,4.602,4.699,4.778,4.845,4.903,4.954,5.301]}},
"y":{"field":"y","type":"quantitative","scale":{"domain":[0,105],"nice":false,"zero":false},"axis":{"orient":"left","title":null,"tickSize":4,"values":[5,10,15,25,30,35,45,50,55,65,70,75,85,90,95]}},
"color":{"field":"s","type":"nominal","scale":{"domain":["Unstim","PMA"],"range":["#a8a8a8","#000000"]},"legend":null},
"order":{"value":null}}}
]},
{"data":{"name":"dummy"},"mark":{"type":"point","opacity":0},"encoding":{"x":{"field":"f","type":"quantitative","scale":{"domain":[1.12,5.42],"nice":false,"zero":false},"axis":{"orient":"bottom","title":null,"tickSize":8,"values":[1.22,2,3,4,5]}},"y":{"field":"f","type":"quantitative","scale":{"domain":[0,105],"nice":false,"zero":false},"axis":{"orient":"left","title":null,"tickSize":8,"values":[0,20,40,60,80,100]}}}},
{"data":{"name":"frame"},"mark":{"type":"point","opacity":0},"encoding":{"x":{"field":"f","type":"quantitative","scale":{"domain":[0,1],"range":[-26,330],"nice":false,"zero":false},"axis":{"orient":"bottom","offset":20,"domain":true,"domainWidth":3,"domainColor":"#000","domainCap":"square","ticks":false,"labels":false,"title":"IκBα","titleFontSize":30,"titlePadding":16,"titleX":163}}}}
],
"resolve":{"scale":{"x":"independent","y":"independent"},"axis":{"x":"independent","y":"independent"}}}
],
"columns":2,
"spacing":{"row":91,"column":131},
"bounds":"flush",
"resolve":{"scale":{"color":"independent"},"legend":{"color":"independent"}}
}
